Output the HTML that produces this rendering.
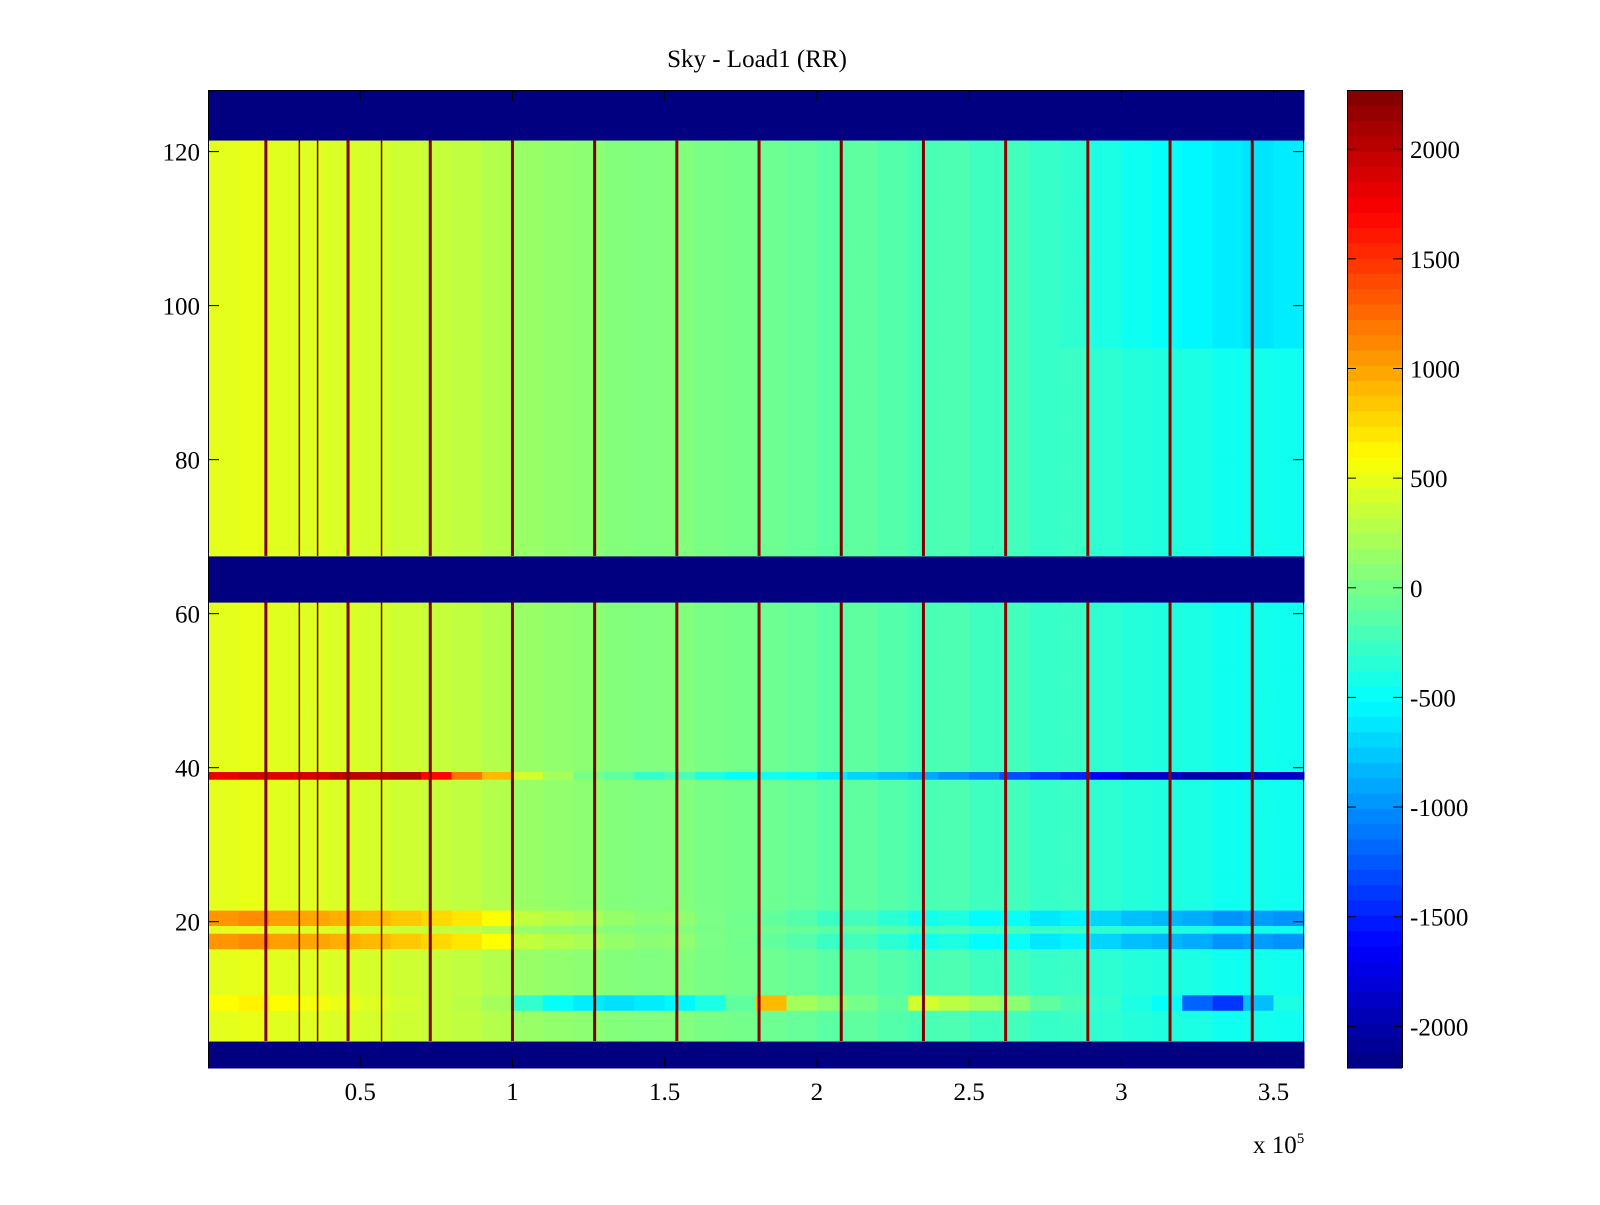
<!DOCTYPE html>
<html><head><meta charset="utf-8"><style>
html,body{margin:0;padding:0;background:#fff}
svg text{font-family:"Liberation Serif",serif;font-size:25px;fill:#000}
</style></head><body>
<svg id="chart" width="1600" height="1200" xmlns="http://www.w3.org/2000/svg">
<rect width="1600" height="1200" fill="#fff"/>
<text x="757" y="67" text-anchor="middle">Sky - Load1 (RR)</text>
<g id="cells"></g>
<g id="vlines"></g>
<rect x="208.5" y="90.5" width="1095" height="977" fill="none" stroke="#000" stroke-width="1"/>
<g id="axes"></g>
<g id="cbar"></g>
<text x="1253" y="1153">x 10<tspan dy="-10" font-size="15">5</tspan></text>
</svg>
<script>
// ---- data ----
var colTrend = [480,500,460,450,430,410,380,350,320,270,
                150,120,100,60,40,50,10,-10,-40,-70,
                -120,-100,-150,-200,-180,-240,-220,-280,-260,-320,
                -360,-380,-400,-450,-430,-450];
var topRightShift = [0,0,0,0,0,0,0,0,0,0,
                     0,0,0,0,0,0,0,0,0,0,
                     0,0,0,0,0,0,0,0,-50,-80,
                     -100,-120,-150,-150,-200,-150];
var binWidth = 10000;
var row39 = [1800,1900,1850,1900,2000,2000,2050,1700,1200,900,
             400,200,0,-100,-300,-200,-400,-500,-450,-500,
             -600,-700,-800,-900,-1000,-1100,-1300,-1400,-1500,-1700,
             -1900,-1900,-2000,-2000,-1900,-1900];
var row9 = [600,650,600,550,500,450,400,350,300,200,
            -300,-500,-600,-650,-600,-550,-400,-100,900,200,
            100,0,-100,400,300,200,100,-100,-200,-300,
            -400,-500,-1200,-1400,-800,-400];
var gainRows = [17,18,20,21];
var gainValue = 2.2;
var bandRows = [1,2,3,4,62,63,64,65,66,67,122,123,124,125,126,127,128];
var bandValue = -2190;
var spikeX = [19000,30000,36000,46000,57000,73000,100000,127000,154000,181000,208000,235000,262000,289000,316000,343000];
var spikeMajor = [1,0,0,1,0,1,1,1,1,1,1,1,1,1,1,1];
var spikeValue = [2270,2270,2270,2270,2270,2270,2270,2270,2200,2200,2270,2270,2200,2200,2200,2270];
var xTicks = [0.5,1,1.5,2,2.5,3,3.5];
var yTicks = [20,40,60,80,100,120];
var cTicks = [2000,1500,1000,500,0,-500,-1000,-1500,-2000];
var cMin = -2190, cMax = 2270;

// ---- scales ----
var PX0=208, PX1=1304, PY0=90, PY1=1068;
function xs(v){return PX0 + (v/360000)*(PX1-PX0);}
function ys(v){return PY1 - (v-1)*((PY1-PY0)/127);}
function cs(v){return PY1 - (v-cMin)/(cMax-cMin)*(PY1-PY0);}
function jet(v){
  var t=(v-cMin)/(cMax-cMin); t=Math.max(0,Math.min(1,t));
  function c(x){return Math.max(0,Math.min(1,x));}
  var r=c(1.5-Math.abs(4*t-3)), g=c(1.5-Math.abs(4*t-2)), b=c(1.5-Math.abs(4*t-1));
  return 'rgb('+Math.round(r*255)+','+Math.round(g*255)+','+Math.round(b*255)+')';
}
var NS='http://www.w3.org/2000/svg';
function mk(tag,attrs,parent){var e=document.createElementNS(NS,tag);for(var k in attrs)e.setAttribute(k,attrs[k]);parent.appendChild(e);return e;}

// ---- cells ----
var cells=document.getElementById('cells');
for(var r=1;r<=128;r++){
  var y0=Math.max(PY0,ys(r+0.5)), y1=Math.min(PY1,ys(r-0.5));
  for(var j=0;j<colTrend.length;j++){
    var v;
    if(bandRows.indexOf(r)>=0) v=bandValue;
    else if(r===39) v=row39[j];
    else if(r===9||r===10) v=row9[j];
    else if(gainRows.indexOf(r)>=0) v=colTrend[j]*gainValue;
    else if(r>=95) v=colTrend[j]+topRightShift[j];
    else v=colTrend[j];
    var x0=xs(j*binWidth), x1=Math.min(PX1,xs((j+1)*binWidth));
    var el=mk('rect',{x:x0,y:y0,width:x1-x0+0.5,height:y1-y0+0.5,fill:jet(v)},cells);
    
    
  }
}
// ---- spike lines ----
var vl=document.getElementById('vlines');
var segs=[[5,61],[68,121]];
for(var i=0;i<spikeX.length;i++){
  for(var s=0;s<segs.length;s++){
    var w=spikeMajor[i]?3:1.5;
    var l=mk('rect',{x:xs(spikeX[i])-w/2,y:ys(segs[s][1]+0.5),width:w,height:ys(segs[s][0]-0.5)-ys(segs[s][1]+0.5),fill:jet(spikeValue[i])},vl);
    
    
  }
}
// ---- axes ----
var ax=document.getElementById('axes');
for(var i=0;i<xTicks.length;i++){
  var x=xs(xTicks[i]*100000);
  mk('line',{x1:x,x2:x,y1:PY1,y2:PY1-11,stroke:'#000'},ax);
  mk('line',{x1:x,x2:x,y1:PY0,y2:PY0+11,stroke:'#000'},ax);
  var t=mk('text',{x:x,y:1100,'text-anchor':'middle'},ax);t.textContent=xTicks[i];
  
  
}
for(var i=0;i<yTicks.length;i++){
  var y=ys(yTicks[i]);
  mk('line',{x1:PX0,x2:PX0+11,y1:y,y2:y,stroke:'#000'},ax);
  mk('line',{x1:PX1,x2:PX1-11,y1:y,y2:y,stroke:'#000'},ax);
  var t=mk('text',{x:200,y:y+9,'text-anchor':'end'},ax);t.textContent=yTicks[i];
  
  
}
// ---- colorbar ----
var cb=document.getElementById('cbar');
var N=64;
for(var k=0;k<N;k++){
  var v0=cMin+(cMax-cMin)*k/N, v1=cMin+(cMax-cMin)*(k+1)/N;
  var s=mk('rect',{x:1347,y:cs(v1),width:55,height:cs(v0)-cs(v1)+0.6,fill:jet((v0+v1)/2)},cb);
  
  
}
mk('rect',{x:1347.5,y:90.5,width:55,height:977,fill:'none',stroke:'#000'},cb);
for(var i=0;i<cTicks.length;i++){
  var y=cs(cTicks[i]);
  mk('line',{x1:1347,x2:1356,y1:y,y2:y,stroke:'#000'},cb);
  mk('line',{x1:1402,x2:1393,y1:y,y2:y,stroke:'#000'},cb);
  var t=mk('text',{x:1410,y:y+9},cb);t.textContent=cTicks[i];
  
  
}
</script>
</body></html>
